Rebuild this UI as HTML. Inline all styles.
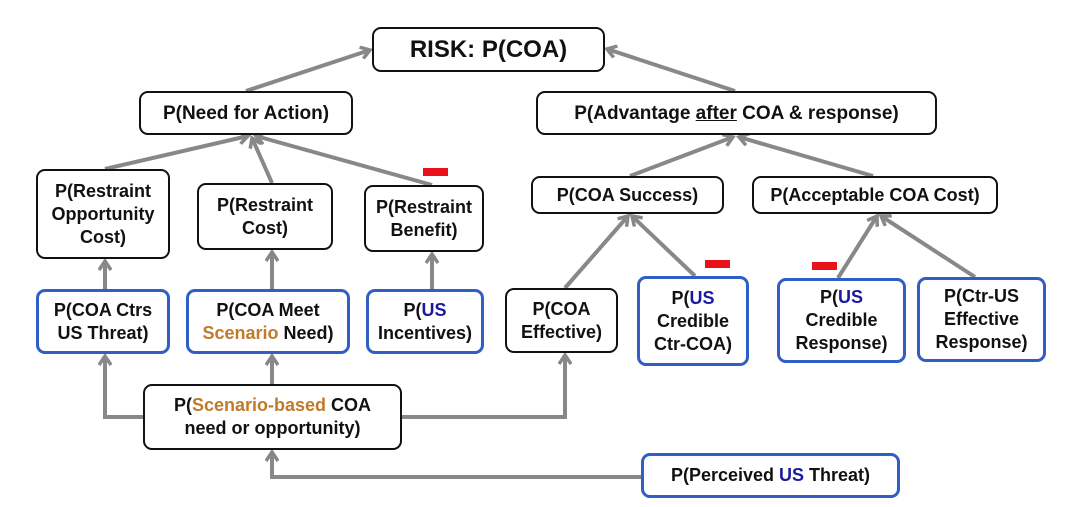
<!DOCTYPE html>
<html><head><meta charset="utf-8"><style>
body{margin:0;width:1080px;height:507px;background:#fff;position:relative;overflow:hidden;font-family:"Liberation Sans",Arial,sans-serif;font-weight:bold;}
.b{position:absolute;box-sizing:border-box;border:2.5px solid #111;border-radius:9px;background:#fff;display:flex;align-items:center;justify-content:center;text-align:center;font-size:18px;line-height:23px;color:#111;}
.bl{border:3px solid #2f5fc4;}
.u{color:#1a1aa0}.s{color:#c07a2a}
.r{position:absolute;background:#e8121a;width:25px;height:8px;}
svg{position:absolute;left:0;top:0}
</style></head><body>
<svg width="1080" height="507">
<defs><marker id="a" markerWidth="14" markerHeight="14" refX="11" refY="7" orient="auto" markerUnits="userSpaceOnUse"><path d="M2,1 L11,7 L2,13" fill="none" stroke="#888" stroke-width="3.5"/></marker></defs>
<g stroke="#888" stroke-width="4" fill="none" marker-end="url(#a)">
<line x1="246" y1="91" x2="370" y2="50"/>
<line x1="735" y1="91" x2="607" y2="49"/>
<line x1="105" y1="169" x2="248" y2="136"/>
<line x1="272" y1="183" x2="252" y2="138"/>
<line x1="432" y1="185" x2="256" y2="136"/>
<line x1="630" y1="176" x2="733" y2="137"/>
<line x1="873" y1="176" x2="739" y2="137"/>
<line x1="565" y1="288" x2="628" y2="216"/>
<line x1="695" y1="276" x2="632" y2="216"/>
<line x1="838" y1="278" x2="877" y2="216"/>
<line x1="975" y1="277" x2="881" y2="216"/>
<line x1="105" y1="289" x2="105" y2="261"/>
<line x1="272" y1="289" x2="272" y2="252"/>
<line x1="432" y1="289" x2="432" y2="254"/>
<line x1="272" y1="384" x2="272" y2="356"/>
<polyline points="143,417 105,417 105,356"/>
<polyline points="402,417 565,417 565,355"/>
<polyline points="641,477 272,477 272,452"/>
</g>
</svg>
<div class="b" style="left:372px;top:27px;width:233px;height:45px;font-size:24px">RISK: P(COA)</div>
<div class="b" style="left:139px;top:91px;width:214px;height:44px;font-size:19px">P(Need for Action)</div>
<div class="b" style="left:536px;top:91px;width:401px;height:44px;font-size:19px"><span>P(Advantage <u>after</u> COA &amp; response)</span></div>
<div class="b" style="left:36px;top:169px;width:134px;height:90px">P(Restraint<br>Opportunity<br>Cost)</div>
<div class="b" style="left:197px;top:183px;width:136px;height:67px">P(Restraint<br>Cost)</div>
<div class="b" style="left:364px;top:185px;width:120px;height:67px">P(Restraint<br>Benefit)</div>
<div class="r" style="left:423px;top:168px"></div>
<div class="b" style="left:531px;top:176px;width:193px;height:38px">P(COA Success)</div>
<div class="b" style="left:752px;top:176px;width:246px;height:38px">P(Acceptable COA Cost)</div>
<div class="b bl" style="left:36px;top:289px;width:134px;height:65px">P(COA Ctrs<br>US Threat)</div>
<div class="b bl" style="left:186px;top:289px;width:164px;height:65px"><span>P(COA Meet<br><span class="s">Scenario</span> Need)</span></div>
<div class="b bl" style="left:366px;top:289px;width:118px;height:65px"><span>P(<span class="u">US</span><br>Incentives)</span></div>
<div class="b" style="left:505px;top:288px;width:113px;height:65px">P(COA<br>Effective)</div>
<div class="b bl" style="left:637px;top:276px;width:112px;height:90px"><span>P(<span class="u">US</span><br>Credible<br>Ctr-COA)</span></div>
<div class="r" style="left:705px;top:260px"></div>
<div class="b bl" style="left:777px;top:278px;width:129px;height:85px"><span>P(<span class="u">US</span><br>Credible<br>Response)</span></div>
<div class="r" style="left:812px;top:262px"></div>
<div class="b bl" style="left:917px;top:277px;width:129px;height:85px">P(Ctr-US<br>Effective<br>Response)</div>
<div class="b" style="left:143px;top:384px;width:259px;height:66px"><span>P(<span class="s">Scenario-based</span> COA<br>need or opportunity)</span></div>
<div class="b bl" style="left:641px;top:453px;width:259px;height:45px"><span>P(Perceived <span class="u">US</span> Threat)</span></div>
</body></html>
